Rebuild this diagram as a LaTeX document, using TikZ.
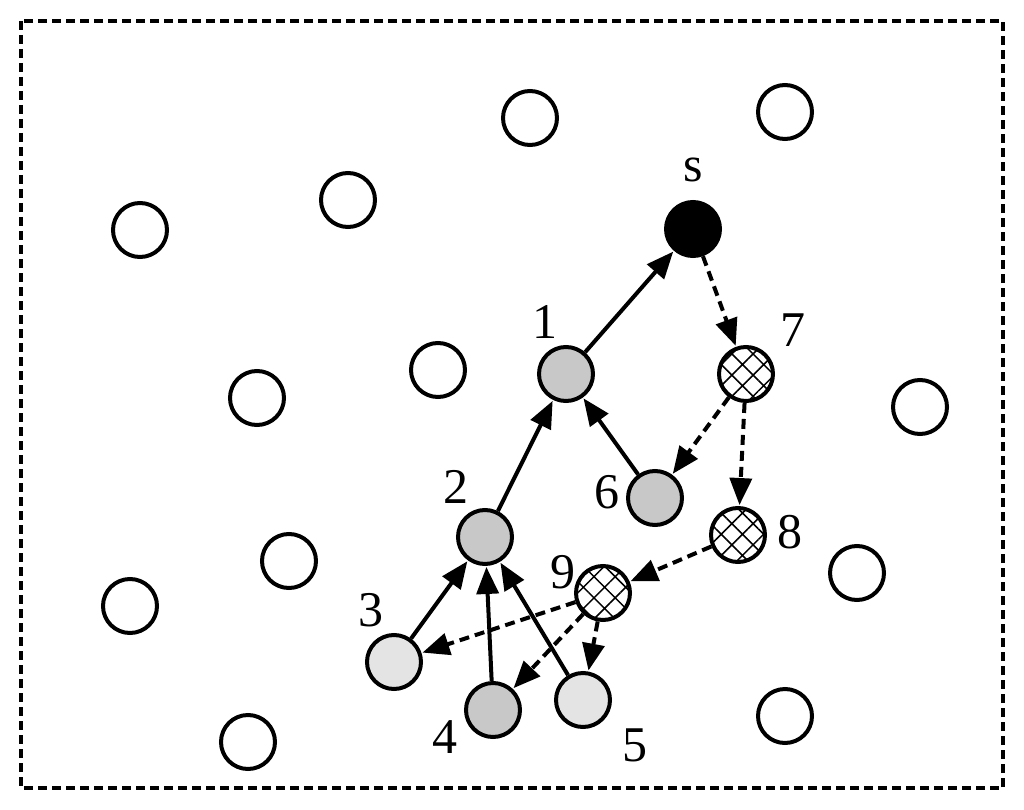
\documentclass[tikz,border=0pt]{standalone}
\usepackage{fontspec}
\setmainfont{Liberation Serif}
\usetikzlibrary{arrows.meta,patterns.meta}
\begin{document}
\begin{tikzpicture}[x=1pt,y=-1pt,
  vert/.style={circle,draw=black,line width=4pt,minimum size=54pt,inner sep=0pt},
  empty/.style={vert,fill=white},
  dark/.style={vert,fill=black},
  grayv/.style={vert,fill={rgb,255:red,200;green,200;blue,200}},
  light/.style={vert,fill={rgb,255:red,228;green,228;blue,228}},
  hatch/.style={vert,fill=white,postaction={pattern={Hatch[angle=45,distance=15pt,line width=1.5pt]}}},
  lbl/.style={font=\fontsize{50}{50}\selectfont,inner sep=0pt},
  tree/.style={line width=4pt,-{Triangle[length=27pt,width=22pt]},shorten >=1pt},
  msg/.style={tree,dash pattern=on 10pt off 6pt}
]
\useasboundingbox (0,0) rectangle (1024,810);
\draw[line width=4pt,dash pattern=on 9pt off 5pt] (21,21) rectangle (1003,788);
% plain nodes
\node[empty] (e1) at (530,118) {};
\node[empty] (e2) at (785,112) {};
\node[empty] (e3) at (348,200) {};
\node[empty] (e4) at (140,230) {};
\node[empty] (e5) at (438,370) {};
\node[empty] (e6) at (257,398) {};
\node[empty] (e7) at (920,407) {};
\node[empty] (e8) at (289,561) {};
\node[empty] (e9) at (130,606) {};
\node[empty] (e10) at (857,573) {};
\node[empty] (e11) at (248,742) {};
\node[empty] (e12) at (785,716) {};
% tree nodes
\node[dark] (s) at (693,229) {};
\node[grayv] (n1) at (566,374) {};
\node[hatch] (n7) at (746,374) {};
\node[grayv] (n6) at (655,498) {};
\node[hatch] (n8) at (738,535) {};
\node[grayv] (n2) at (485,537) {};
\node[hatch] (n9) at (603,593) {};
\node[light] (n3) at (394,662) {};
\node[grayv] (n4) at (493,710) {};
\node[light] (n5) at (583,700) {};
% labels
\node[lbl] (ls) at (693,170) {s};
\node[lbl] (l1) at (545,322) {1};
\node[lbl] (l7) at (793,330) {7};
\node[lbl] (l6) at (607,492) {6};
\node[lbl] (l8) at (790,532) {8};
\node[lbl] (l2) at (456,487) {2};
\node[lbl] (l9) at (563,572) {9};
\node[lbl] (l3) at (371,610) {3};
\node[lbl] (l4) at (445,737) {4};
\node[lbl] (l5) at (635,745) {5};
% tree edges
\draw[tree] (n1) -- (s);
\draw[tree] (n2) -- (n1);
\draw[tree] (n6) -- (n1);
\draw[tree] (n3) -- (n2);
\draw[tree] (n4) -- (n2);
\draw[tree] (n5) -- (n2);
% message edges
\draw[msg] (s) -- (n7);
\draw[msg] (n7) -- (n6);
\draw[msg] (n7) -- (n8);
\draw[msg] (n8) -- (n9);
\draw[msg] (n9) -- (n3);
\draw[msg] (n9) -- (n4);
\draw[msg] (n9) -- (n5);
\end{tikzpicture}
\end{document}
